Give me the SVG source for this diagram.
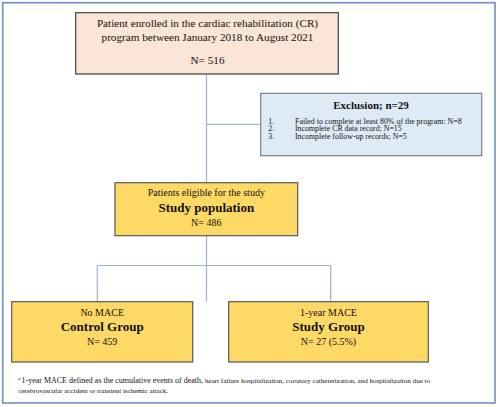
<svg xmlns="http://www.w3.org/2000/svg" width="500" height="407" viewBox="0 0 500 407">
<style>
text{font-family:"Liberation Serif","Times New Roman",serif;fill:#111;text-anchor:middle}
.b{font-weight:bold}
.conn{stroke:#9db3d8;stroke-width:1.2;fill:none}
.yel{fill:#ffd966;stroke:#595959;stroke-width:1.2}
.l{text-anchor:start}
.it{font-size:7.8px}
</style>
<rect x="0" y="0" width="500" height="407" fill="#fff"/>
<rect x="2.7" y="2.7" width="492.3" height="400.3" fill="#fff" stroke="#6f8fc0" stroke-width="1.6"/>
<g id="connectors">
<path class="conn" d="M206.5 74 V301.7"/>
<path class="conn" d="M206.5 124.3 H260.7"/>
<path class="conn" d="M97.3 301.7 V265.5 H330.7 V301.7"/>
</g>
<g id="enrolled">
<rect x="75.7" y="12.7" width="262.6" height="61.3" fill="#fbe5d6" stroke="#404040" stroke-width="1.2"/>
<text x="207.5" y="27" font-size="11.2">Patient enrolled in the cardiac rehabilitation (CR)</text>
<text x="207.5" y="41" font-size="11.2">program between January 2018 to August 2021</text>
<text x="207.5" y="63.5" font-size="11.2">N= 516</text>
</g>
<g id="exclusion">
<rect x="260.7" y="93.3" width="221" height="62.4" fill="#deebf7" stroke="#808080" stroke-width="1.2"/>
<text x="371" y="109" font-size="11" class="b">Exclusion; n=29</text>
<text x="268.3" y="123.6" class="l it">1.</text>
<text x="295" y="123.6" class="l it" textLength="166.7" lengthAdjust="spacingAndGlyphs">Failed to complete at least 80% of the program: N=8</text>
<text x="268.3" y="131.1" class="l it">2.</text>
<text x="295" y="131.1" class="l it" textLength="106.7" lengthAdjust="spacingAndGlyphs">Incomplete CR data record; N=15</text>
<text x="268.3" y="138.6" class="l it">3.</text>
<text x="295" y="138.6" class="l it" textLength="111.7" lengthAdjust="spacingAndGlyphs">Incomplete follow-up records; N=5</text>
</g>
<g id="population">
<rect class="yel" x="115" y="182.7" width="182.7" height="53"/>
<text x="206.3" y="196" font-size="10">Patients eligible for the study</text>
<text x="206.3" y="211.5" font-size="13" class="b">Study population</text>
<text x="206.3" y="225.7" font-size="10">N= 486</text>
</g>
<g id="control">
<rect class="yel" x="11.7" y="301.7" width="181" height="60.3"/>
<text x="102.2" y="315.8" font-size="10">No MACE</text>
<text x="102.2" y="331.3" font-size="13" class="b">Control Group</text>
<text x="102.2" y="345.2" font-size="10">N= 459</text>
</g>
<g id="studygroup">
<rect class="yel" x="228.7" y="301.7" width="199.6" height="60.3"/>
<text x="328.5" y="315.8" font-size="10">1-year MACE</text>
<text x="328.5" y="331.3" font-size="13" class="b">Study Group</text>
<text x="328.5" y="345.2" font-size="10">N= 27 (5.5%)</text>
</g>
<g id="footnote">
<text x="18.3" y="380" class="l" font-size="5">a</text>
<text x="21.5" y="382.5" class="l" font-size="8" textLength="181.5" lengthAdjust="spacingAndGlyphs">1-year MACE defined as the cumulative events of death,</text>
<text x="205" y="382.5" class="l" font-size="6.8" textLength="225" lengthAdjust="spacingAndGlyphs">heart failure hospitalization, coronary catheterization, and hospitalization due to</text>
<text x="18.3" y="393" class="l" font-size="6.8" textLength="149.7" lengthAdjust="spacingAndGlyphs">cerebrovascular accident or transient ischemic attack.</text>
</g>
</svg>
